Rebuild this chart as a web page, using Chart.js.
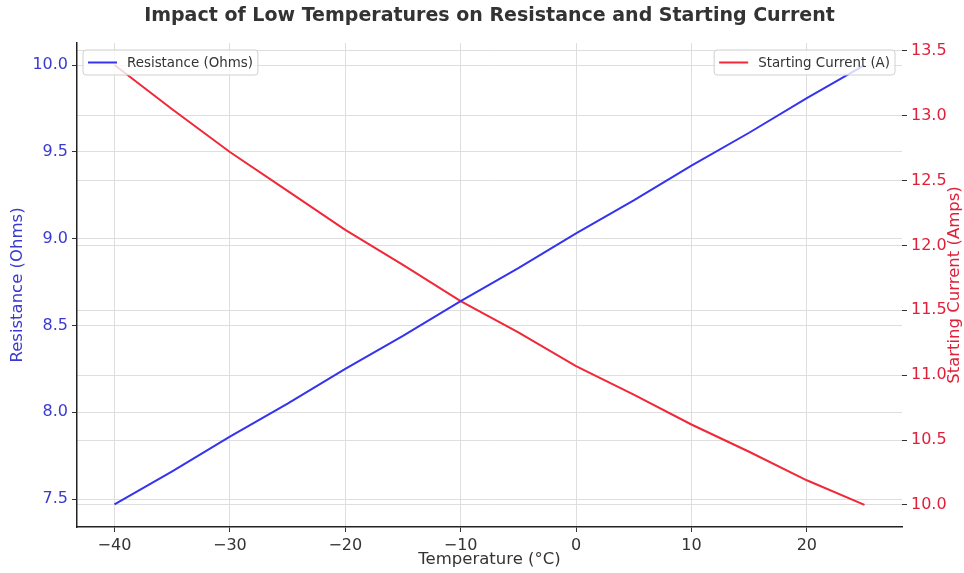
<!DOCTYPE html>
<html>
<head>
<meta charset="utf-8">
<script src="https://cdn.jsdelivr.net/npm/chart.js@4/dist/chart.umd.min.js"></script>
<style>
  html, body { margin: 0; padding: 0; background: #fff; }
  #wrap { width: 964px; height: 573px; }
</style>
</head>
<body>
<div id="wrap"><canvas id="chart" width="964" height="573"></canvas></div>
<script>
// Data
const temps = [-40, -35, -30, -25, -20, -15, -10, -5, 0, 5, 10, 15, 20, 25];
const resistance = [7.47, 7.66, 7.86, 8.05, 8.25, 8.44, 8.64, 8.83, 9.03, 9.22, 9.42, 9.61, 9.81, 10.00];
const current = [13.39, 13.05, 12.72, 12.42, 12.12, 11.85, 11.57, 11.33, 11.07, 10.85, 10.62, 10.41, 10.19, 10.00];

const xTicks = [-40, -30, -20, -10, 0, 10, 20];
const resTicks = [7.5, 8.0, 8.5, 9.0, 9.5, 10.0];
const curTicks = [10.0, 10.5, 11.0, 11.5, 12.0, 12.5, 13.0, 13.5];

const BLUE = '#3434f0';
const RED = '#f02838';
const BLUE_TXT = '#3a3ad0';
const RED_TXT = '#e0203a';
const FONT = "'DejaVu Sans', sans-serif";

const toPts = vals => temps.map((t, i) => ({ x: t, y: vals[i] }));
const minus = v => (v < 0 ? '\u2212' + Math.abs(v) : String(v));

// titles, axis labels and the two separate legends
const decor = {
  id: 'decor',
  afterDatasetsDraw(chart) {
    const { ctx, chartArea: a } = chart;
    const cy = (a.top + a.bottom) / 2;
    ctx.save();
    ctx.textBaseline = 'middle';
    ctx.textAlign = 'center';
    ctx.fillStyle = '#333';
    ctx.font = 'bold 19px ' + FONT;
    ctx.fillText('Impact of Low Temperatures on Resistance and Starting Current', (a.left + a.right) / 2, 16);
    ctx.font = '16.5px ' + FONT;
    ctx.fillText('Temperature (\u00b0C)', (a.left + a.right) / 2, 560);

    ctx.save();
    ctx.translate(18, cy);
    ctx.rotate(-Math.PI / 2);
    ctx.fillStyle = BLUE_TXT;
    ctx.fillText('Resistance (Ohms)', 0, 0);
    ctx.restore();

    ctx.save();
    ctx.translate(955, cy);
    ctx.rotate(-Math.PI / 2);
    ctx.fillStyle = RED_TXT;
    ctx.fillText('Starting Current (Amps)', 0, 0);
    ctx.restore();

    // legends
    ctx.font = '13.4px ' + FONT;
    const drawLegend = (ds, x, y) => {
      const w = 32 + 10 + ctx.measureText(ds.label).width + 7;
      const h = 25;
      ctx.beginPath();
      ctx.roundRect(x, y, w, h, 3);
      ctx.fillStyle = 'rgba(255,255,255,0.8)';
      ctx.fill();
      ctx.strokeStyle = '#d0d0d0';
      ctx.lineWidth = 1;
      ctx.stroke();
      ctx.beginPath();
      ctx.moveTo(x + 5, y + h / 2);
      ctx.lineTo(x + 34, y + h / 2);
      ctx.strokeStyle = ds.borderColor;
      ctx.lineWidth = 2;
      ctx.stroke();
      ctx.fillStyle = '#333';
      ctx.textAlign = 'left';
      ctx.fillText(ds.label, x + 44, y + h / 2 + 1);
      return w;
    };
    const d = chart.data.datasets;
    drawLegend(d[0], a.left + 6, a.top + 7);
    const w2 = 32 + 10 + ctx.measureText(d[1].label).width + 7;
    drawLegend(d[1], a.right - 7 - w2, a.top + 7);
    ctx.restore();
  }
};

const gridBase = {
  color: '#dedede',
  borderDash: [4, 2],
  lineWidth: 1,
  tickColor: '#333',
  tickBorderDash: [],
  tickLength: 5,
  tickWidth: 1
};

new Chart(document.getElementById('chart'), {
  type: 'line',
  data: {
    datasets: [
      {
        label: 'Resistance (Ohms)',
        data: toPts(resistance),
        borderColor: BLUE,
        borderWidth: 2,
        pointRadius: 0,
        tension: 0,
        yAxisID: 'y'
      },
      {
        label: 'Starting Current (A)',
        data: toPts(current),
        borderColor: RED,
        borderWidth: 2,
        pointRadius: 0,
        tension: 0,
        yAxisID: 'y1'
      }
    ]
  },
  options: {
    responsive: false,
    animation: false,
    layout: { padding: { top: 43, left: 0, right: 0, bottom: 0 } },
    plugins: {
      legend: { display: false },
      title: { display: false },
      tooltip: { enabled: false }
    },
    scales: {
      x: {
        type: 'linear',
        min: -43.25,
        max: 28.25,
        afterBuildTicks: s => { s.ticks = xTicks.map(v => ({ value: v })); },
        afterFit: s => { s.height = 46; },
        grid: { ...gridBase },
        border: { display: true, color: '#222', width: 1.5 },
        ticks: {
          color: '#333',
          padding: 4,
          maxRotation: 0,
          font: { family: FONT, size: 16 },
          callback: v => minus(v)
        }
      },
      y: {
        type: 'linear',
        position: 'left',
        min: 7.339,
        max: 10.127,
        afterBuildTicks: s => { s.ticks = resTicks.map(v => ({ value: v })); },
        afterFit: s => { s.width = 77; },
        grid: { ...gridBase },
        border: { display: true, color: '#222', width: 1.5 },
        ticks: {
          color: BLUE_TXT,
          padding: 4,
          font: { family: FONT, size: 16 },
          callback: v => v.toFixed(1)
        }
      },
      y1: {
        type: 'linear',
        position: 'right',
        min: 9.83,
        max: 13.56,
        afterBuildTicks: s => { s.ticks = curTicks.map(v => ({ value: v })); },
        afterFit: s => { s.width = 62; },
        grid: { ...gridBase },
        border: { display: false },
        ticks: {
          color: RED_TXT,
          padding: 4,
          font: { family: FONT, size: 16 },
          callback: v => v.toFixed(1)
        }
      }
    }
  },
  plugins: [decor]
});
</script>
</body>
</html>
